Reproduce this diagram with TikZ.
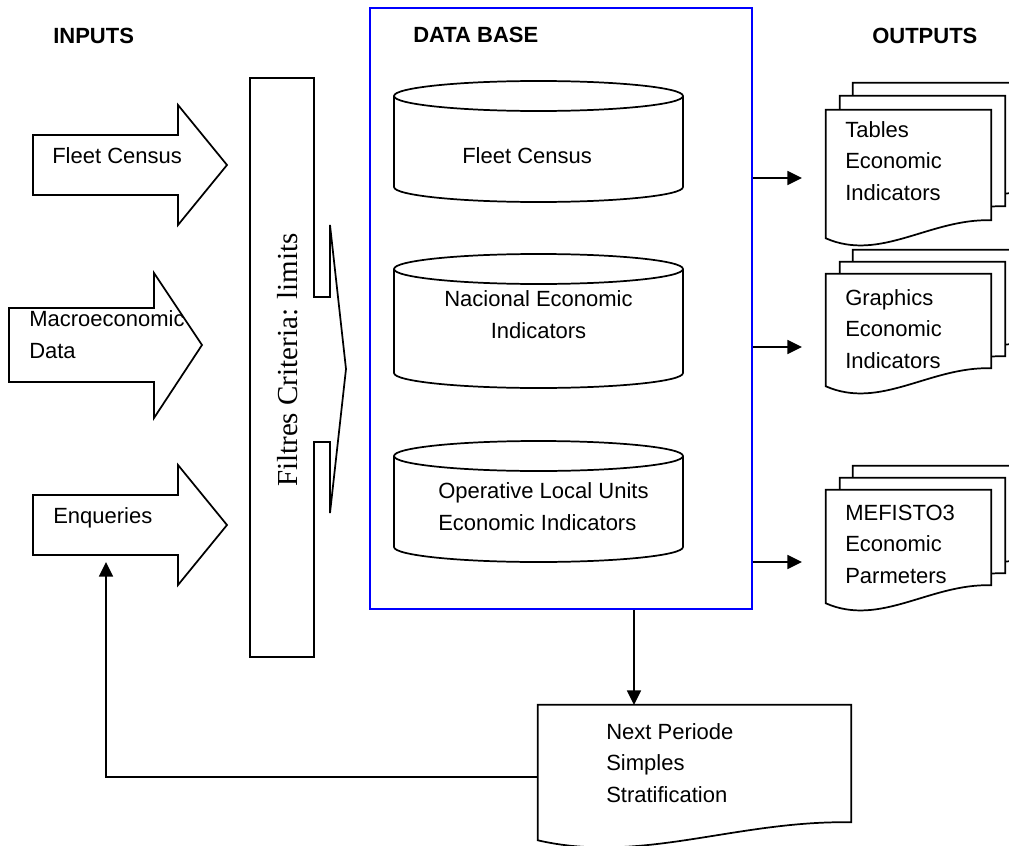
\documentclass[tikz,border=0pt]{standalone}
\usepackage{fontspec}
\setmainfont{Liberation Sans}
\newfontfamily\timesfont{Liberation Serif}
\usetikzlibrary{positioning,arrows.meta,calc}
\tikzstyle{shp}=[draw=black, line width=1.3pt, fill=white, line join=miter]
\tikzstyle{dbbox}=[rectangle, draw=blue, line width=1.4pt, inner sep=0pt,
                   minimum width=286.5pt, minimum height=450.75pt]
\tikzstyle{hdr}=[anchor=base west, inner sep=0pt, font=\fontsize{16.5pt}{20pt}\selectfont\bfseries]
\tikzstyle{txt}=[anchor=base west, inner sep=0pt, align=left,
                 font=\fontsize{16.5pt}{23.5pt}\selectfont]
\tikzstyle{docnode}=[rectangle, inner sep=0pt, draw=none, minimum width=123.75pt]
\tikzstyle{arr}=[-{Triangle[length=11pt,width=10.5pt]}, line width=1.3pt]
\newcommand{\docshape}[3]{\draw[shp] ($(#1.north west)+(#2,#3)$) -- ($(#1.north east)+(#2,#3)$)
  -- ($(#1.south east)+(#2,#3)$)
  .. controls ($(#1.south west)!0.63!(#1.south east)+(#2,#3)+(0,-2)$)
  and ($(#1.south west)!0.33!(#1.south east)+(#2,#3)+(0,42)$)
  .. ($(#1.south west)+(#2,#3)+(0,18)$) -- cycle;}
\newcommand{\dbcyl}[2]{\draw[shp] (394,#1) -- (394,#2)
  arc[start angle=180, end angle=0, x radius=144.5, y radius=15] -- (683,#1);
  \draw[shp] (538.5,#1) ellipse [x radius=144.5, y radius=15];}
\begin{document}
\begin{tikzpicture}[x=0.75pt, y=-0.75pt]
\useasboundingbox (0,0) rectangle (1009,845);
\clip (0,0) rectangle (1009,845);

% inputs
\node (INP) [hdr] at (53,44) {INPUTS};
\draw[shp] (33,135) -- (178,135) -- (178,105) -- (227,165) -- (178,225) -- (178,195) -- (33,195) -- cycle;
\node (FLTIN) [txt] at (52,163) {Fleet Census};
\draw[shp] (9,308) -- (154,308) -- (154,273) -- (202,345) -- (154,418) -- (154,382) -- (9,382) -- cycle;
\node (MACIN) [txt] at (29,358) {Macroeconomic\\Data};
\draw[shp] (33,495) -- (178,495) -- (178,465) -- (227,525) -- (178,585) -- (178,555) -- (33,555) -- cycle;
\node (ENQIN) [txt] at (53,523) {Enqueries};

% filter
\draw[shp] (250,78) -- (314,78) -- (314,297) -- (330,297) -- (330,225) -- (346,369) -- (330,513)
  -- (330,442) -- (314,442) -- (314,657) -- (250,657) -- cycle;
\node (FILT) [rotate=90, inner sep=0pt, font=\timesfont\fontsize{21.75pt}{24pt}\selectfont] at (288,360) {Filtres Criteria: limits};

% data base
\node (DB) [dbbox] at (561,308.5) {};
\node (DBH) [hdr] at (413,43) {DATA BASE};
\dbcyl{96}{187}
\node (DBFC) [txt] at (462,164) {Fleet Census};
\dbcyl{269}{373}
\node (DBNEI) [txt, align=center, anchor=base] at (538.5,338) {Nacional Economic\\Indicators};
\dbcyl{456}{547}
\node (DBOLU) [txt] at (438,530) {Operative Local Units\\Economic Indicators};

% outputs
\node (OUTP) [hdr] at (872,44) {OUTPUTS};
\node (TAB) [docnode, minimum height=82.5pt] at (908.5,165) {};
\docshape{TAB}{27}{-27}
\docshape{TAB}{14}{-14}
\docshape{TAB}{0}{0}
\node (TABt) [txt] at (845,200) {Tables\\Economic\\Indicators};
\node (GRA) [docnode, minimum height=70.5pt] at (908.5,321) {};
\docshape{GRA}{27}{-24}
\docshape{GRA}{14}{-12}
\docshape{GRA}{0}{0}
\node (GRAt) [txt] at (845,368) {Graphics\\Economic\\Indicators};
\node (MEF) [docnode, minimum height=71.25pt] at (908.5,537.5) {};
\docshape{MEF}{27}{-24}
\docshape{MEF}{14}{-12}
\docshape{MEF}{0}{0}
\node (MEFt) [txt] at (845,583) {MEFISTO3\\Economic\\Parmeters};
\coordinate (o1) at (802,178);
\coordinate (o2) at (802,347);
\coordinate (o3) at (802,562);
\draw[arr] (DB.east |- o1) -- (o1);
\draw[arr] (DB.east |- o2) -- (o2);
\draw[arr] (DB.east |- o3) -- (o3);

% next period
\node (NPS) [docnode, minimum width=234.75pt, minimum height=87.75pt] at (694.5,763.5) {};
\docshape{NPS}{0}{0}
\node (NPSt) [txt] at (606,802) {Next Periode\\Simples\\Stratification};
\coordinate (npin) at (634,705);
\draw[arr] (DB.south -| npin) -- (npin);
\coordinate (enqb) at (106,562);
\draw[arr] ([yshift=-10.1pt]NPS.west) -| (enqb);

\end{tikzpicture}
\end{document}
